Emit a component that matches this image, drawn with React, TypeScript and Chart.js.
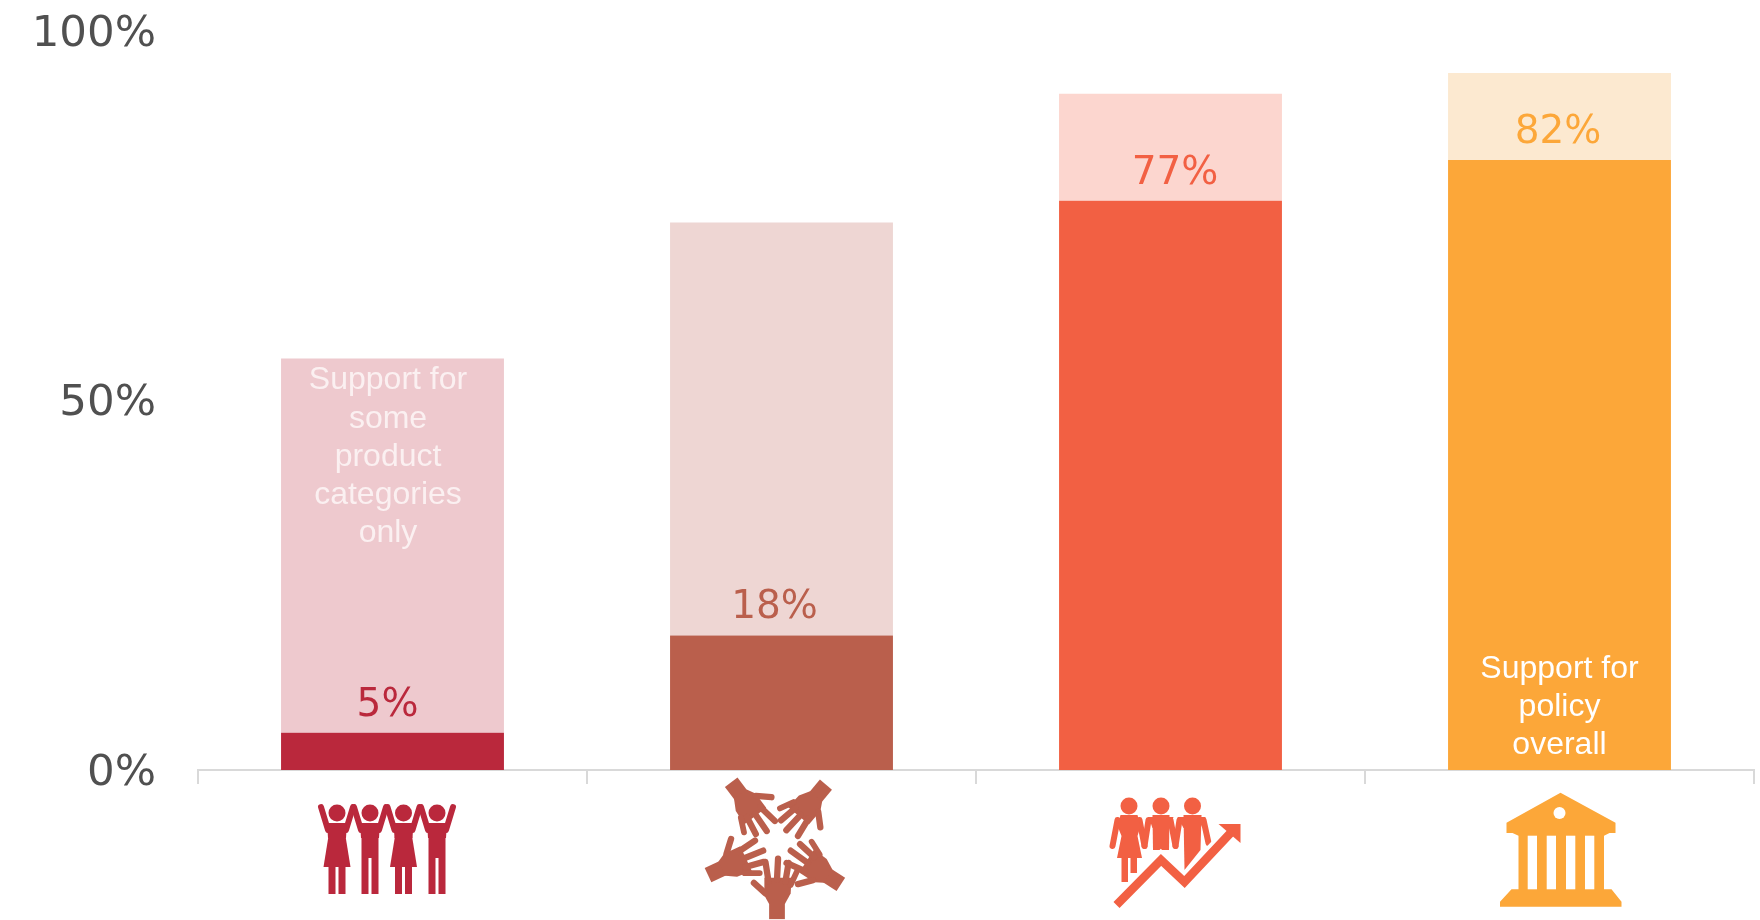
import React, { useEffect, useRef } from "react";
import { Chart, registerables } from "chart.js";

Chart.register(...registerables);

const categories = ["People", "Community", "Economy", "Institutions"];
const overallSupport = [5, 18.1, 76.6, 82.1];
const someCategoriesSupport = [50.4, 55.6, 14.4, 11.7];
const valueLabels = ["5%", "18%", "77%", "82%"];
const yTicks = [0, 50, 100];
const yTickNudge = [-0.45, -0.75, -1.1];
const darkColors = ["#BA283C", "#BA5F4C", "#F26043", "#FCA739"];
const lightColors = ["#EEC9CE", "#EED6D3", "#FCD6CF", "#FCE9D0"];
const labelOffsetX = [-5, -7, 4.5, -1.5];
const labelOffsetY = [-27, -28, -26.5, -27.5];
const someCategoriesNote = ["Support for", "some", "product", "categories", "only"];
const overallNote = ["Support for", "policy", "overall"];

type Ctx = CanvasRenderingContext2D;
type Pt = [number, number];

function poly(ctx: Ctx, pts: Pt[]) {
  ctx.beginPath();
  pts.forEach(([x, y], i) => (i ? ctx.lineTo(x, y) : ctx.moveTo(x, y)));
  ctx.closePath();
  ctx.fill();
}
function line(ctx: Ctx, pts: Pt[], w: number, cap: CanvasLineCap = "round") {
  ctx.beginPath();
  pts.forEach(([x, y], i) => (i ? ctx.lineTo(x, y) : ctx.moveTo(x, y)));
  ctx.lineWidth = w;
  ctx.lineCap = cap;
  ctx.lineJoin = "miter";
  ctx.stroke();
}
function head(ctx: Ctx, x: number, y: number, r: number) {
  ctx.beginPath();
  ctx.arc(x, y, r, 0, Math.PI * 2);
  ctx.fill();
}

function drawPeople(ctx: Ctx, cx: number, base: number, color: string) {
  ctx.save();
  ctx.translate(cx, base);
  ctx.fillStyle = color;
  ctx.strokeStyle = color;
  [-55.5, -22.5, 11, 44.5].forEach((fx, i) => {
    ctx.save();
    ctx.translate(fx, 0);
    head(ctx, 0, 43, 8.5);
    line(ctx, [[-9, 60], [-16, 37]], 6);
    line(ctx, [[9, 60], [16, 37]], 6);
    poly(ctx, [[-10, 53], [10, 53], [9, 68], [-9, 68]]);
    if (i % 2 === 0) {
      poly(ctx, [[-8.5, 66], [8.5, 66], [13.5, 97], [-13.5, 97]]);
      ctx.fillRect(-8.5, 97, 7, 27);
      ctx.fillRect(1.5, 97, 7, 27);
    } else {
      ctx.fillRect(-8.5, 66, 17, 58);
      ctx.fillStyle = "#fff";
      ctx.fillRect(-1.5, 88, 3, 36);
      ctx.fillStyle = color;
    }
    ctx.restore();
  });
  ctx.restore();
}

function drawHands(ctx: Ctx, cx: number, base: number, color: string) {
  ctx.save();
  ctx.translate(cx - 4.5, base + 73);
  ctx.fillStyle = color;
  ctx.strokeStyle = color;
  [0, -57, -140, 143, 65].forEach((deg) => {
    ctx.save();
    ctx.rotate((deg * Math.PI) / 180);
    ctx.scale(1.05, 1.05);
    ctx.fillRect(-7.5, 54, 15, 18.5);
    poly(ctx, [[-12, 33], [14, 33], [13, 48], [7.5, 58], [-7.5, 58], [-12, 50]]);
    line(ctx, [[-8, 37], [-11, 18]], 6);
    line(ctx, [[0, 35], [1, 15]], 6);
    line(ctx, [[8, 37], [11, 19]], 6);
    line(ctx, [[13, 40], [19, 27]], 5.5);
    line(ctx, [[-11, 48], [-22, 38]], 6);
    ctx.restore();
  });
  ctx.restore();
}

function drawGrowth(ctx: Ctx, cx: number, base: number, color: string) {
  ctx.save();
  ctx.translate(cx, base);
  ctx.fillStyle = color;
  ctx.strokeStyle = color;
  head(ctx, -41.5, 36, 8.5);
  head(ctx, -9.5, 36, 8.5);
  head(ctx, 22, 36, 8.5);
  // shoulders and arms
  line(ctx, [[-53, 50], [-58, 76]], 6);
  line(ctx, [[-31, 50], [-26, 76]], 6);
  line(ctx, [[-22, 50], [-26, 76]], 6);
  line(ctx, [[0, 50], [5, 76]], 6);
  line(ctx, [[9, 50], [5, 76]], 6);
  line(ctx, [[33, 50], [38, 73]], 6);
  // dress figure
  poly(ctx, [[-50, 45], [-33, 45], [-30, 56], [-33, 66], [-28.5, 88], [-53.5, 88], [-49, 66], [-53, 56]]);
  ctx.fillRect(-49, 88, 6.5, 24);
  ctx.fillRect(-40, 88, 6.5, 15);
  // middle figure
  poly(ctx, [[-18, 45], [-1, 45], [-1.5, 80], [-17.5, 80]]);
  poly(ctx, [[-22, 47], [3, 47], [-1, 58], [-18, 58]]);
  // right figure
  poly(ctx, [[13, 45], [31, 45], [30, 80], [22, 90], [14, 100]]);
  poly(ctx, [[7, 47], [35, 47], [30, 58], [13, 58]]);
  // arrow with white halo
  ctx.strokeStyle = "#fff";
  line(ctx, [[-54, 135], [-9.5, 90], [14, 112], [60, 63]], 16, "butt");
  ctx.strokeStyle = color;
  line(ctx, [[-54, 135], [-9.5, 90], [14, 112], [60, 63]], 8.5, "butt");
  poly(ctx, [[48, 54], [70, 54], [70, 73]]);
  ctx.restore();
}

function drawBank(ctx: Ctx, cx: number, base: number, color: string) {
  ctx.save();
  ctx.translate(cx, base);
  ctx.fillStyle = color;
  poly(ctx, [[1, 22.7], [56, 52.7], [56, 63], [50, 63], [44.5, 65.7], [44.5, 119.3], [52, 119.3], [62, 131.7], [62, 136.7], [-59.5, 136.7], [-59.5, 131.7], [-48, 119.3], [-41, 119.3], [-41, 65.7], [-47, 63], [-53, 63], [-53, 52.7]]);
  ctx.fillStyle = "#fff";
  head(ctx, 0, 43, 6);
  [-31.8, -12.8, 6.5, 25.5].forEach((x) => ctx.fillRect(x, 65.7, 9.3, 53.6));
  ctx.restore();
}

const iconDrawers = [drawPeople, drawHands, drawGrowth, drawBank];

const overlayPlugin = {
  id: "overlay",
  afterDatasetsDraw(chart: any) {
    const { ctx, scales } = chart;
    const x = scales.x;
    const y = scales.y;
    const base = y.getPixelForValue(0);
    ctx.save();
    ctx.textAlign = "center";
    ctx.textBaseline = "middle";
    categories.forEach((_, i) => {
      const cx = x.getPixelForValue(i);
      ctx.font = '39px "DejaVu Sans"';
      ctx.fillStyle = darkColors[i];
      ctx.fillText(
        valueLabels[i],
        cx + labelOffsetX[i],
        y.getPixelForValue(overallSupport[i]) + labelOffsetY[i]
      );
      iconDrawers[i](ctx, cx, base, darkColors[i]);
    });
    ctx.font = '32px "Liberation Sans"';
    ctx.fillStyle = "#FBF0F1";
    const firstTop = y.getPixelForValue(overallSupport[0] + someCategoriesSupport[0]);
    someCategoriesNote.forEach((t, i) => {
      ctx.fillText(t, x.getPixelForValue(0) - 4.5, firstTop + 22 + i * 38.3);
    });
    ctx.fillStyle = "#FFFFFF";
    overallNote.forEach((t, i) => {
      ctx.fillText(t, x.getPixelForValue(3), base - 101 + i * 38);
    });
    ctx.restore();
  },
};

export default function App() {
  const ref = useRef<HTMLCanvasElement>(null);
  useEffect(() => {
    const chart = new Chart(ref.current as HTMLCanvasElement, {
      type: "bar",
      data: {
        labels: categories,
        datasets: [
          {
            label: "Support for policy overall",
            data: overallSupport,
            backgroundColor: darkColors,
            inflateAmount: 0,
          },
          {
            label: "Support for some product categories only",
            data: someCategoriesSupport,
            backgroundColor: lightColors,
            inflateAmount: 0,
          },
        ],
      } as any,
      options: {
        animation: false,
        responsive: false,
        layout: { padding: { left: 0, right: 6, top: 27, bottom: 0 } },
        plugins: { legend: { display: false }, tooltip: { enabled: false } },
        datasets: { bar: { barPercentage: 0.573, categoryPercentage: 1 } },
        scales: {
          x: {
            stacked: true,
            grid: {
              drawOnChartArea: false,
              color: "#D9D9D9",
              lineWidth: 2,
              tickLength: 14,
            },
            border: { color: "#D9D9D9", width: 2 },
            ticks: { display: false },
            afterFit: (s: any) => {
              s.height = 150;
              s.paddingLeft = 0;
              s.paddingRight = 0;
            },
          },
          y: {
            stacked: true,
            min: 0,
            max: 100,
            grid: { display: false, drawTicks: false },
            border: { display: false },
            afterBuildTicks: (s: any) => {
              s.ticks = yTicks.map((v, i) => ({ value: v + yTickNudge[i] }));
            },
            ticks: {
              color: "#505050",
              padding: 42,
              autoSkip: false,
              font: { family: '"DejaVu Sans"', size: 43.5 },
              callback: (_v: any, i: number) => `${yTicks[i]}%`,
            },
            afterFit: (s: any) => {
              s.width = 198;
              s.paddingTop = 0;
              s.paddingBottom = 0;
            },
          },
        },
      } as any,
      plugins: [overlayPlugin],
    });
    return () => chart.destroy();
  }, []);
  return (
    <div style={{ position: "absolute", left: 0, top: 0, width: 1760, height: 920, overflow: "hidden", background: "#fff" }}>
      <canvas ref={ref} width={1760} height={920} style={{ display: "block" }} />
    </div>
  );
}
